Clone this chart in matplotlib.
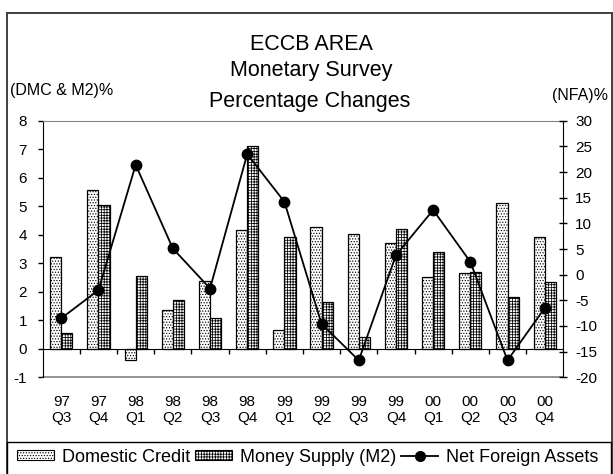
import numpy as np
import matplotlib
matplotlib.use("Agg")
import matplotlib.pyplot as plt
from matplotlib.patches import Patch, Rectangle
from matplotlib.lines import Line2D

# quarterly % changes, ECCB monetary survey
periods = ["97\nQ3", "97\nQ4", "98\nQ1", "98\nQ2", "98\nQ3", "98\nQ4", "99\nQ1",
           "99\nQ2", "99\nQ3", "99\nQ4", "00\nQ1", "00\nQ2", "00\nQ3", "00\nQ4"]
domestic_credit = [3.23, 5.58, -0.40, 1.36, 2.39, 4.16, 0.66,
                   4.26, 4.01, 3.72, 2.53, 2.65, 5.10, 3.91]
money_supply = [0.57, 5.04, 2.54, 1.71, 1.07, 7.12, 3.91,
                1.65, 0.42, 4.21, 3.38, 2.68, 1.82, 2.35]
net_foreign_assets = [-8.5, -3.0, 21.4, 5.1, -2.7, 23.5, 14.2,
                      -9.6, -16.7, 3.8, 12.6, 2.5, -16.7, -6.5]
left_ticks = list(range(-1, 9))
right_ticks = list(range(-20, 31, 5))

plt.rcParams["font.family"] = "Liberation Sans"
plt.rcParams["axes.unicode_minus"] = False
plt.rcParams["hatch.linewidth"] = 0.55

W, H = 613, 474


def fx(px):
    return px / W


def fy(py):
    return 1 - py / H


fig = plt.figure(figsize=(W / 100, H / 100), dpi=100)
ax = fig.add_axes([fx(42.7), fy(377.3), fx(563.3) - fx(42.7), fy(120.7) - fy(377.3)])

x = np.arange(len(periods))
bw = 0.3
ax.bar(x - bw / 2, domestic_credit, bw, facecolor="white", edgecolor="black",
       hatch="......", lw=0.9, zorder=2)
ax.bar(x + bw / 2, money_supply, bw, facecolor="white", edgecolor="black",
       hatch="++++++", lw=0.9, zorder=2)

ax.set_xlim(-0.5, len(periods) - 0.5)
ax.set_ylim(left_ticks[0], left_ticks[-1])
ax.set_yticks(left_ticks)
ax.set_xticks(x)
ax.set_xticklabels(periods, linespacing=1.35)
ax.set_xticks(x[:-1] + 0.5, minor=True)

# category axis sits on zero, plot-area border top and bottom in grey
ax.spines["bottom"].set_position(("data", 0))
ax.spines["bottom"].set_color("black")
ax.spines["top"].set_color("#808080")
ax.spines["right"].set_visible(False)
ax.axhline(left_ticks[0], color="#808080", lw=1.2, clip_on=False)

ax.tick_params(axis="x", which="major", length=0, pad=33, labelsize=11)
ax.tick_params(axis="x", which="minor", length=3.8, width=1, direction="out")
ax.tick_params(axis="y", length=3.8, width=1, direction="out", pad=7.5, labelsize=11)

ax2 = ax.twinx()
ax2.set_ylim(right_ticks[0], right_ticks[-1])
ax2.set_yticks(right_ticks)
for side in ["top", "bottom", "left"]:
    ax2.spines[side].set_visible(False)
ax2.tick_params(axis="y", direction="inout", length=5.8, width=1, pad=5.5, labelsize=11)
ax2.plot(x, net_foreign_assets, color="black", lw=1.3, marker="o", ms=7.5, zorder=3)

# titles and axis captions
fig.text(fx(311), fy(50), "ECCB AREA", ha="center", va="baseline", fontsize=15.5)
fig.text(fx(311), fy(76), "Monetary Survey", ha="center", va="baseline", fontsize=15.5)
fig.text(fx(310), fy(107.3), "Percentage Changes", ha="center", va="baseline", fontsize=15.5)
fig.text(fx(10), fy(95), "(DMC & M2)%", ha="left", va="baseline", fontsize=11.5)
fig.text(fx(552), fy(100), "(NFA)%", ha="left", va="baseline", fontsize=11.5)

handles = [
    Patch(facecolor="white", edgecolor="black", hatch="......", lw=0.8),
    Patch(facecolor="white", edgecolor="black", hatch="++++++", lw=0.8),
    Line2D([], [], color="black", lw=1.3, marker="o", ms=7),
]
labels = ["Domestic Credit", "Money Supply (M2)", "Net Foreign Assets"]
fig.legend(handles, labels, loc="center", bbox_to_anchor=(fx(308), fy(457)), ncol=3,
           frameon=False, fontsize=13, handlelength=2.05, handleheight=0.5,
           handletextpad=0.45, columnspacing=0.25, borderaxespad=0, borderpad=0)

# outer chart frame and legend box
fig.patches.append(Rectangle((fx(6.7), fy(490)), fx(612) - fx(6.7), fy(12.7) - fy(490),
                             transform=fig.transFigure, fill=False,
                             edgecolor="#404040", lw=1.4))
fig.patches.append(Rectangle((fx(6.7), fy(490)), fx(611) - fx(6.7), fy(441.7) - fy(490),
                             transform=fig.transFigure, fill=False,
                             edgecolor="black", lw=1.0))

fig.savefig("out.png", dpi=100)
